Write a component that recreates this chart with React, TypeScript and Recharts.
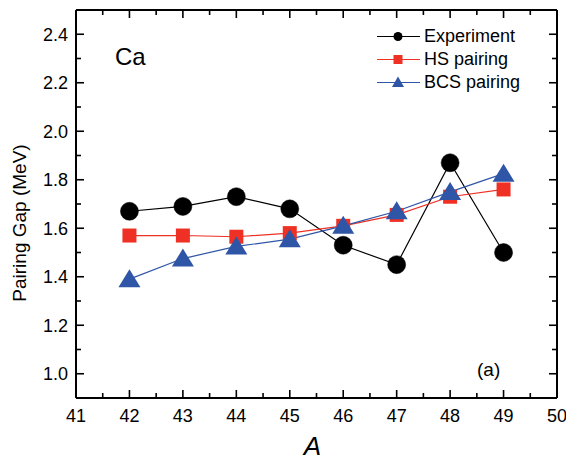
import React from 'react';
import { LineChart, Line, XAxis, YAxis } from 'recharts';

const massNumbers = [42, 43, 44, 45, 46, 47, 48, 49];
const experiment = [1.67, 1.69, 1.73, 1.68, 1.53, 1.45, 1.87, 1.5];
const hsPairing = [1.57, 1.57, 1.565, 1.58, 1.61, 1.655, 1.73, 1.76];
const bcsPairing = [1.39, 1.475, 1.525, 1.555, 1.61, 1.67, 1.75, 1.825];

const xTicks = [41, 41.5, 42, 42.5, 43, 43.5, 44, 44.5, 45, 45.5, 46, 46.5, 47, 47.5, 48, 48.5, 49, 49.5, 50];
const yTicks = [1.0, 1.1, 1.2, 1.3, 1.4, 1.5, 1.6, 1.7, 1.8, 1.9, 2.0, 2.1, 2.2, 2.3, 2.4];

const seriesNames = ['Experiment', 'HS pairing', 'BCS pairing'];

const rows = massNumbers.map((a, i) => ({
  A: a,
  exp: experiment[i],
  hs: hsPairing[i],
  bcs: bcsPairing[i],
}));

const FONT = '"Liberation Sans", Arial, Helvetica, sans-serif';
const BLACK = '#000000';
const RED = '#ee3124';
const BLUE = '#2f55a6';

const isMajorX = (v: number) => Math.abs(v - Math.round(v)) < 1e-6;
const isMajorY = (v: number) => Math.abs(v * 5 - Math.round(v * 5)) < 1e-6;

const MAJOR = 8;
const MINOR = 5;
const TW = 1.6;

const LeftTick = (props: any) => {
  const { x, y, payload } = props;
  const v = payload.value as number;
  const ax = x + 8;
  const major = isMajorY(v);
  return (
    <g>
      <line x1={ax} x2={ax + (major ? MAJOR : MINOR)} y1={y} y2={y} stroke={BLACK} strokeWidth={TW} />
      {major && (
        <text x={x} y={y} dy={6.5} textAnchor="end" fontFamily={FONT} fontSize={18} fill={BLACK}>
          {v.toFixed(1)}
        </text>
      )}
    </g>
  );
};

const RightTick = (props: any) => {
  const { x, y, payload } = props;
  const v = payload.value as number;
  const major = isMajorY(v);
  return <line x1={x} x2={x - (major ? MAJOR : MINOR)} y1={y} y2={y} stroke={BLACK} strokeWidth={TW} />;
};

const BottomTick = (props: any) => {
  const { x, y, payload } = props;
  const v = payload.value as number;
  const major = isMajorX(v);
  return (
    <g>
      <line x1={x} x2={x} y1={y} y2={y - (major ? MAJOR : MINOR)} stroke={BLACK} strokeWidth={TW} />
      {major && (
        <text x={x} y={y + 24} textAnchor="middle" fontFamily={FONT} fontSize={18} fill={BLACK}>
          {String(v)}
        </text>
      )}
    </g>
  );
};

const TopTick = (props: any) => {
  const { x, y, payload } = props;
  const v = payload.value as number;
  const major = isMajorX(v);
  return <line x1={x} x2={x} y1={y} y2={y + (major ? MAJOR : MINOR)} stroke={BLACK} strokeWidth={TW} />;
};

const CircleDot = (props: any) => {
  const { cx, cy, index } = props;
  if (cx == null || cy == null) return <g key={index} />;
  return <circle key={index} cx={cx} cy={cy} r={9} fill={BLACK} stroke={BLACK} strokeWidth={0.5} />;
};

const SquareDot = (props: any) => {
  const { cx, cy, index } = props;
  if (cx == null || cy == null) return <g key={index} />;
  return <rect key={index} x={cx - 7} y={cy - 7} width={14} height={14} fill={RED} />;
};

const TriangleDot = (props: any) => {
  const { cx, cy, index } = props;
  if (cx == null || cy == null) return <g key={index} />;
  const pts = `${cx},${cy - 10} ${cx - 11},${cy + 8} ${cx + 11},${cy + 8}`;
  return <polygon key={index} points={pts} fill={BLUE} />;
};

const LegendBox = () => {
  const items = [
    { name: seriesNames[0], color: BLACK, shape: 'circle' },
    { name: seriesNames[1], color: RED, shape: 'square' },
    { name: seriesNames[2], color: BLUE, shape: 'triangle' },
  ];
  return (
    <div
      style={{
        position: 'absolute',
        top: 25,
        left: 376,
        width: 180,
        fontFamily: FONT,
        fontSize: 18,
        color: BLACK,
      }}
    >
      {items.map((it) => (
        <div key={it.name} style={{ display: 'flex', alignItems: 'center', height: 23 }}>
          <svg width={48} height={23} style={{ display: 'block' }}>
            <line x1={1} x2={44} y1={11.5} y2={11.5} stroke={it.color} strokeWidth={1.2} />
            {it.shape === 'circle' && <circle cx={22} cy={11.5} r={4.5} fill={it.color} />}
            {it.shape === 'square' && <rect x={17.5} y={7} width={9} height={9} fill={it.color} />}
            {it.shape === 'triangle' && <polygon points={`22,5.5 16,16 28,16`} fill={it.color} />}
          </svg>
          <span style={{ lineHeight: '23px', whiteSpace: 'nowrap' }}>{it.name}</span>
        </div>
      ))}
    </div>
  );
};

const YLabel = (props: any) => {
  const vb = props.viewBox || { x: 16, y: 10, width: 60, height: 388 };
  const cx = vb.x + 3;
  const cy = vb.y + vb.height / 2 + 19;
  return (
    <text
      x={cx}
      y={cy}
      transform={`rotate(-90, ${cx}, ${cy})`}
      textAnchor="middle"
      dominantBaseline="central"
      fontFamily={FONT}
      fontSize={19}
      fill={BLACK}
    >
      Pairing Gap (MeV)
    </text>
  );
};

const XLabel = (props: any) => {
  const vb = props.viewBox || { x: 76, y: 398, width: 481, height: 64 };
  return (
    <text
      x={vb.x + vb.width / 2 - 4}
      y={vb.y + 57}
      textAnchor="middle"
      fontFamily={FONT}
      fontSize={26}
      fontStyle="italic"
      fill={BLACK}
    >
      A
    </text>
  );
};

export default function App() {
  return (
    <div style={{ position: 'absolute', left: 0, top: 0, width: 566, height: 462, background: '#fff' }}>
      <LineChart width={566} height={462} data={rows} margin={{ top: 9, right: 8, left: 16, bottom: 0 }}>
        <XAxis
          xAxisId="b"
          dataKey="A"
          type="number"
          domain={[41, 50]}
          ticks={xTicks}
          interval={0}
          orientation="bottom"
          height={64}
          tickSize={0}
          tickMargin={0}
          tickLine={false}
          tick={BottomTick}
          axisLine={{ stroke: BLACK, strokeWidth: 2 }}
          allowDataOverflow
          label={(p: any) => <XLabel {...p} />}
        />
        <XAxis
          xAxisId="t"
          dataKey="A"
          type="number"
          domain={[41, 50]}
          ticks={xTicks}
          interval={0}
          orientation="top"
          height={1}
          tickSize={0}
          tickMargin={0}
          tickLine={false}
          tick={TopTick}
          axisLine={{ stroke: BLACK, strokeWidth: 2 }}
          allowDataOverflow
        />
        <YAxis
          yAxisId="l"
          type="number"
          domain={[0.9, 2.5]}
          ticks={yTicks}
          interval={0}
          orientation="left"
          width={60}
          tickSize={0}
          tickMargin={8}
          tickLine={false}
          tick={LeftTick}
          axisLine={{ stroke: BLACK, strokeWidth: 2 }}
          allowDataOverflow
          label={(p: any) => <YLabel {...p} />}
        />
        <YAxis
          yAxisId="r"
          type="number"
          domain={[0.9, 2.5]}
          ticks={yTicks}
          interval={0}
          orientation="right"
          width={1}
          tickSize={0}
          tickMargin={0}
          tickLine={false}
          tick={RightTick}
          axisLine={{ stroke: BLACK, strokeWidth: 2 }}
          allowDataOverflow
        />
        <Line
          xAxisId="b"
          yAxisId="l"
          dataKey="exp"
          name={seriesNames[0]}
          stroke={BLACK}
          strokeWidth={1.2}
          dot={CircleDot}
          activeDot={false}
          isAnimationActive={false}
        />
        <Line
          xAxisId="b"
          yAxisId="l"
          dataKey="hs"
          name={seriesNames[1]}
          stroke={RED}
          strokeWidth={1.2}
          dot={SquareDot}
          activeDot={false}
          isAnimationActive={false}
        />
        <Line
          xAxisId="b"
          yAxisId="l"
          dataKey="bcs"
          name={seriesNames[2]}
          stroke={BLUE}
          strokeWidth={1.2}
          dot={TriangleDot}
          activeDot={false}
          isAnimationActive={false}
        />
      </LineChart>
      <LegendBox />
      <svg
        width={566}
        height={462}
        style={{ position: 'absolute', left: 0, top: 0, pointerEvents: 'none' }}
      >
        <text x={115} y={65} fontFamily={FONT} fontSize={24} fill={BLACK}>
          Ca
        </text>
        <text x={477} y={376} fontFamily={FONT} fontSize={19} fill={BLACK}>
          (a)
        </text>
      </svg>
    </div>
  );
}
